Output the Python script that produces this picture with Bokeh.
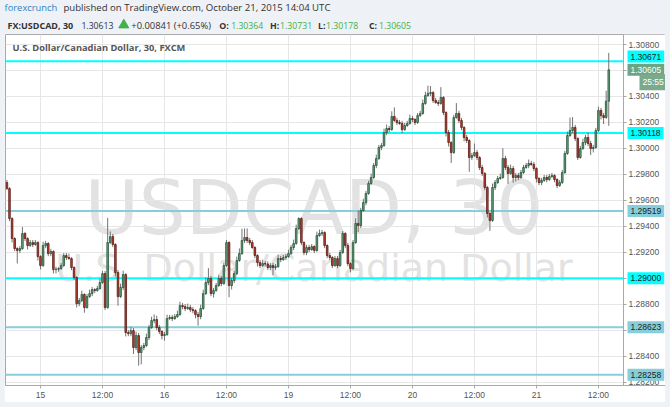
from bokeh.plotting import figure
from bokeh.models import ColumnDataSource, Range1d, FixedTicker, NumeralTickFormatter, Label
from bokeh.layouts import column
from bokeh.embed import file_html
from bokeh.resources import INLINE
from bokeh.core.properties import value

# ---------------- data ----------------
bar_index = list(range(-13, 221))
first_open = 1.29737
closes = [
    1.29691, 1.29460, 1.29306, 1.29229, 1.29214, 1.29229, 1.29345, 1.29306, 1.29252, 1.29275,
    1.29260, 1.29275, 1.29167, 1.29098, 1.29252, 1.29268, 1.29190, 1.29206, 1.29067, 1.29070,
    1.29075, 1.29098, 1.29175, 1.29160, 1.29152, 1.29083, 1.29006, 1.28805, 1.28828, 1.28875,
    1.28775, 1.28859, 1.28882, 1.28913, 1.28906, 1.28921, 1.28967, 1.29036, 1.28775, 1.29275,
    1.29321, 1.29260, 1.29044, 1.28859, 1.28929, 1.29029, 1.28582, 1.28574, 1.28597, 1.28467,
    1.28559, 1.28428, 1.28467, 1.28482, 1.28544, 1.28621, 1.28674, 1.28682, 1.28621, 1.28590,
    1.28559, 1.28567, 1.28690, 1.28698, 1.28690, 1.28705, 1.28721, 1.28790, 1.28782, 1.28767,
    1.28775, 1.28759, 1.28751, 1.28721, 1.28705, 1.28767, 1.28882, 1.28967, 1.28998, 1.28882,
    1.28906, 1.28944, 1.28998, 1.28959, 1.29098, 1.29275, 1.28944, 1.28983, 1.29036, 1.29137,
    1.29190, 1.29291, 1.29314, 1.29291, 1.29275, 1.29237, 1.29175, 1.29121, 1.29098, 1.29113,
    1.29110, 1.29083, 1.29098, 1.29083, 1.29090, 1.29152, 1.29144, 1.29160, 1.29167, 1.29190,
    1.29237, 1.29268, 1.29383, 1.29460, 1.29275, 1.29198, 1.29237, 1.29221, 1.29244, 1.29214,
    1.29329, 1.29345, 1.29352, 1.29252, 1.29175, 1.29160, 1.29098, 1.29152, 1.29098, 1.29198,
    1.29345, 1.29252, 1.29113, 1.29075, 1.29275, 1.29422, 1.29406, 1.29522, 1.29583, 1.29653,
    1.29730, 1.29776, 1.29868, 1.29922, 1.30007, 1.30022, 1.30122, 1.30153, 1.30145, 1.30246,
    1.30215, 1.30199, 1.30192, 1.30145, 1.30176, 1.30192, 1.30230, 1.30222, 1.30199, 1.30253,
    1.30269, 1.30346, 1.30407, 1.30423, 1.30430, 1.30369, 1.30353, 1.30346, 1.30392, 1.30276,
    1.30122, 1.30045, 1.29968, 1.30238, 1.30269, 1.30215, 1.30161, 1.30084, 1.30061, 1.29930,
    1.29945, 1.29968, 1.29930, 1.29853, 1.29807, 1.29699, 1.29499, 1.29445, 1.29699, 1.29737,
    1.29768, 1.29776, 1.29922, 1.29853, 1.29807, 1.29845, 1.29776, 1.29791, 1.29776, 1.29814,
    1.29853, 1.29868, 1.29884, 1.29876, 1.29845, 1.29768, 1.29737, 1.29753, 1.29776, 1.29760,
    1.29783, 1.29791, 1.29760, 1.29714, 1.29737, 1.29814, 1.29961, 1.30099, 1.30138, 1.30161,
    1.30076, 1.29930, 1.29999, 1.30045, 1.30084, 1.30038, 1.29999, 1.30007, 1.30138, 1.30292,
    1.30253, 1.30238, 1.30364, 1.30605,
]
upper_wick_pips = [
    2, 1, 1, 1, 1, 2, 5, 1, 1, 2,
    2, 2, 1, 1, 3, 2, 1, 2, 1, 2,
    1, 2, 2, 2, 3, 1, 1, 1, 2, 3,
    1, 2, 3, 2, 1, 2, 3, 2, 2, 19,
    4, 2, 1, 2, 3, 3, 1, 2, 3, 2,
    3, 2, 2, 2, 3, 2, 3, 4, 3, 2,
    1, 2, 3, 2, 2, 2, 3, 3, 2, 2,
    3, 2, 2, 1, 2, 3, 3, 4, 8, 2,
    2, 2, 3, 2, 2, 2, 1, 2, 2, 3,
    4, 9, 7, 7, 2, 2, 1, 1, 2, 3,
    2, 2, 2, 2, 2, 3, 2, 2, 2, 3,
    2, 3, 3, 1, 1, 1, 2, 2, 2, 1,
    3, 3, 2, 1, 1, 2, 1, 2, 2, 2,
    2, 1, 2, 1, 2, 4, 10, 2, 3, 2,
    2, 3, 2, 3, 2, 2, 3, 3, 2, 4,
    7, 2, 2, 2, 2, 2, 3, 2, 1, 2,
    2, 3, 3, 6, 5, 1, 2, 2, 8, 1,
    1, 2, 1, 2, 8, 2, 2, 1, 2, 1,
    2, 7, 2, 1, 2, 1, 1, 1, 3, 2,
    2, 3, 8, 2, 2, 3, 2, 2, 2, 2,
    2, 2, 3, 2, 2, 1, 1, 2, 2, 2,
    2, 2, 1, 1, 2, 2, 2, 3, 10, 8,
    2, 1, 2, 3, 2, 4, 2, 2, 2, 3,
    2, 2, 8, 13,
]
lower_wick_pips = [
    1, 2, 3, 2, 10, 2, 1, 2, 3, 1,
    2, 1, 3, 3, 1, 2, 2, 2, 3, 3,
    2, 1, 1, 2, 1, 2, 2, 3, 2, 1,
    4, 1, 1, 2, 2, 1, 1, 1, 2, 1,
    1, 2, 3, 7, 1, 2, 3, 2, 2, 5,
    2, 10, 9, 2, 1, 2, 1, 2, 2, 2,
    3, 4, 1, 1, 2, 1, 1, 1, 2, 2,
    1, 2, 2, 3, 7, 2, 1, 1, 2, 2,
    3, 1, 1, 2, 1, 1, 9, 3, 2, 1,
    1, 1, 2, 2, 2, 1, 2, 3, 2, 1,
    2, 2, 2, 6, 2, 1, 2, 1, 2, 1,
    1, 2, 1, 1, 2, 2, 2, 2, 1, 2,
    1, 1, 2, 2, 2, 2, 2, 1, 2, 1,
    1, 2, 2, 3, 1, 1, 5, 2, 1, 2,
    1, 1, 1, 2, 1, 2, 1, 2, 2, 1,
    1, 2, 1, 3, 1, 1, 1, 2, 2, 1,
    1, 1, 1, 1, 2, 2, 1, 2, 1, 2,
    3, 3, 8, 1, 1, 2, 2, 3, 2, 11,
    2, 1, 2, 2, 2, 2, 3, 8, 1, 2,
    1, 1, 1, 2, 8, 1, 4, 3, 2, 1,
    1, 1, 2, 1, 2, 3, 2, 2, 1, 2,
    1, 1, 2, 2, 1, 1, 1, 1, 1, 2,
    2, 2, 1, 1, 2, 2, 5, 3, 1, 1,
    3, 5, 1, 19,
]
time_ticks = [0, 24, 48, 72, 96, 120, 144, 168, 192, 216]
time_labels = ["15", "12:00", "16", "12:00", "19", "12:00", "20", "12:00", "21", "12:00"]
price_ticks = [1.282, 1.284, 1.286, 1.288, 1.290, 1.292, 1.294, 1.296, 1.298,
               1.300, 1.302, 1.304, 1.306, 1.308]
level_prices = [1.30671, 1.30118, 1.29519, 1.29000, 1.28623, 1.28258]
level_bright = [True, True, False, True, False, False]
last_close = 1.30605
countdown = "25:55"

# ---------------- derived OHLC ----------------
opens = [first_open] + closes[:-1]
highs = [max(o, c) + u * 0.0001 for o, c, u in zip(opens, closes, upper_wick_pips)]
lows = [min(o, c) - l * 0.0001 for o, c, l in zip(opens, closes, lower_wick_pips)]
up = [c >= o for o, c in zip(opens, closes)]
src = ColumnDataSource(dict(
    x=bar_index, open=opens, close=closes, high=highs, low=lows,
    top=[max(o, c) for o, c in zip(opens, closes)],
    bottom=[min(o, c) for o, c in zip(opens, closes)],
    fill=["#6ba583" if u else "#bf4433" for u in up],
    line=["#225437" if u else "#5b1a13" for u in up],
))

GREEN = "#44b04a"
AXF = "Liberation Sans"
BG = "#eef1f5"
CYAN = "#00ffff"
LBLUE = "#86cedb"

# ---------------- header ----------------
HW, HH = 670, 33
hdr = figure(width=HW, height=HH, x_range=Range1d(0, HW), y_range=Range1d(0, HH),
             x_axis_type=None, y_axis_type=None, output_backend="svg",
             toolbar_location=None, min_border=0)
hdr.grid.visible = False
hdr.outline_line_color = None
hdr.background_fill_color = BG
hdr.border_fill_color = BG

def htext(x, y, t, color="#333333", style="normal", size="8.7px"):
    hdr.text(x=[x], y=[y], text=[t], text_color=color, text_font=value("Open Sans"),
             text_font_size=size, text_font_style=style, text_baseline="middle",
             text_align="left")

L1, L2 = 25.6, 8
htext(3, L1, "forexcrunch", color="#2f86c6", size="9.4px")
htext(62, L1, "published on TradingView.com, October 21, 2015 14:04 UTC", size="9.6px")
htext(6, L2, "FX:USDCAD, 30", style="bold", size="9px")
htext(80, L2, "1.30613")
hdr.scatter(x=[122.5], y=[L2 + 0.5], marker="triangle", size=10, fill_color=GREEN, line_color=GREEN)
htext(130, L2, "+0.00841 (+0.65%)", size="9.4px")
htext(218, L2, "O:", style="bold", size="8.8px")
htext(230, L2, "1.30364", color=GREEN)
htext(269, L2, "H:", style="bold", size="8.8px")
htext(279, L2, "1.30731", color=GREEN)
htext(317, L2, "L:", style="bold", size="8.8px")
htext(325, L2, "1.30178", color=GREEN)
htext(368, L2, "C:", style="bold", size="8.8px")
htext(378, L2, "1.30605", color=GREEN)

# ---------------- chart ----------------
Y0, Y1 = 1.281745, 1.308770
X0, XR, XEND = -13.55, 225.7, 241.97   # frame start, price-scale edge, frame end (bar units)
p = figure(width=661, height=369, x_range=Range1d(X0, XEND), y_range=Range1d(Y0, Y1),
           output_backend="svg", toolbar_location=None, y_axis_location="right",
           min_border_left=1, min_border_right=0, min_border_top=1, min_border_bottom=17)
p.margin = (0, 5, 5, 4)
p.background_fill_color = "white"
p.border_fill_color = "white"
p.outline_line_color = "#a8a8a8"

# watermark
for txt, sz, yy in (("USDCAD, 30", "74px", 178), ("U.S. Dollar/Canadian Dollar", "38px", 118)):
    p.add_layout(Label(x=308.5, y=yy, x_units="screen", y_units="screen", text=txt,
                       text_font="DejaVu Sans", text_font_size=sz, text_color="#e2e2e2",
                       text_align="center", text_baseline="alphabetic", level="image"))

# axes
p.xaxis.ticker = FixedTicker(ticks=time_ticks)
p.xaxis.major_label_overrides = {t: l for t, l in zip(time_ticks, time_labels)}
p.yaxis.ticker = FixedTicker(ticks=price_ticks)
p.yaxis.formatter = NumeralTickFormatter(format="0.00000")
p.yaxis.fixed_location = XR
for ax in (p.xaxis, p.yaxis):
    ax.axis_line_color = "#a8a8a8"
    ax.major_tick_line_color = "#a8a8a8"
    ax.minor_tick_line_color = None
    ax.major_tick_in = 0
    ax.major_tick_out = 3
    ax.major_label_text_font = AXF
    ax.major_label_text_font_size = "8.5px"
    ax.major_label_text_color = "#555555"
p.xaxis.major_label_standoff = 1
p.yaxis.major_label_standoff = 2
p.xgrid.ticker = FixedTicker(ticks=time_ticks)
p.ygrid.ticker = FixedTicker(ticks=price_ticks)
p.grid.grid_line_color = "#e6e6e6"

# white price-scale column over the grid
p.quad(left=[XR], right=[XEND], bottom=[Y0], top=[Y1], fill_color="white", line_color=None)

# horizontal levels
p.segment(x0=[X0] * len(level_prices), x1=[XR] * len(level_prices),
          y0=level_prices, y1=level_prices, line_width=2,
          line_color=[CYAN if b else LBLUE for b in level_bright])

# candles
p.segment(x0="x", y0="low", x1="x", y1="high", source=src, line_color="#737375", line_width=1)
p.vbar(x="x", top="top", bottom="bottom", width=0.62, source=src,
       fill_color="fill", line_color="line", line_width=0.8)

# title inside chart
p.add_layout(Label(x=7, y=338, x_units="screen", y_units="screen",
                   text="U.S. Dollar/Canadian Dollar, 30, FXCM", text_font="Open Sans",
                   text_font_style="bold", text_font_size="9.3px", text_color="#555555",
                   text_baseline="middle"))

# price-axis boxes
for lv, br in zip(level_prices, level_bright):
    off = 4.75 if lv == level_prices[0] else 0
    p.add_layout(Label(x=622, y=lv, x_units="screen", y_units="data", y_offset=off,
                       text=f"{lv:.5f}", text_font=AXF, text_font_size="8.5px",
                       text_color="#222222", text_baseline="middle",
                       background_fill_color=CYAN if br else LBLUE, padding=3))
p.add_layout(Label(x=622, y=last_close, x_units="screen", y_units="data",
                   text=f"{last_close:.5f}", text_font=AXF, text_font_size="8.5px",
                   text_color="white", text_baseline="middle",
                   background_fill_color="#6ba583", padding=3))
p.add_layout(Label(x=634, y=last_close, x_units="screen", y_units="data", y_offset=-12.4,
                   text=countdown, text_font=AXF, text_font_size="8.5px",
                   text_color="white", text_baseline="middle",
                   background_fill_color="#7aaa8b", padding=3))

layout = column(hdr, p, spacing=0, styles={"background-color": BG})
open("out.html", "w").write(file_html(layout, INLINE))
